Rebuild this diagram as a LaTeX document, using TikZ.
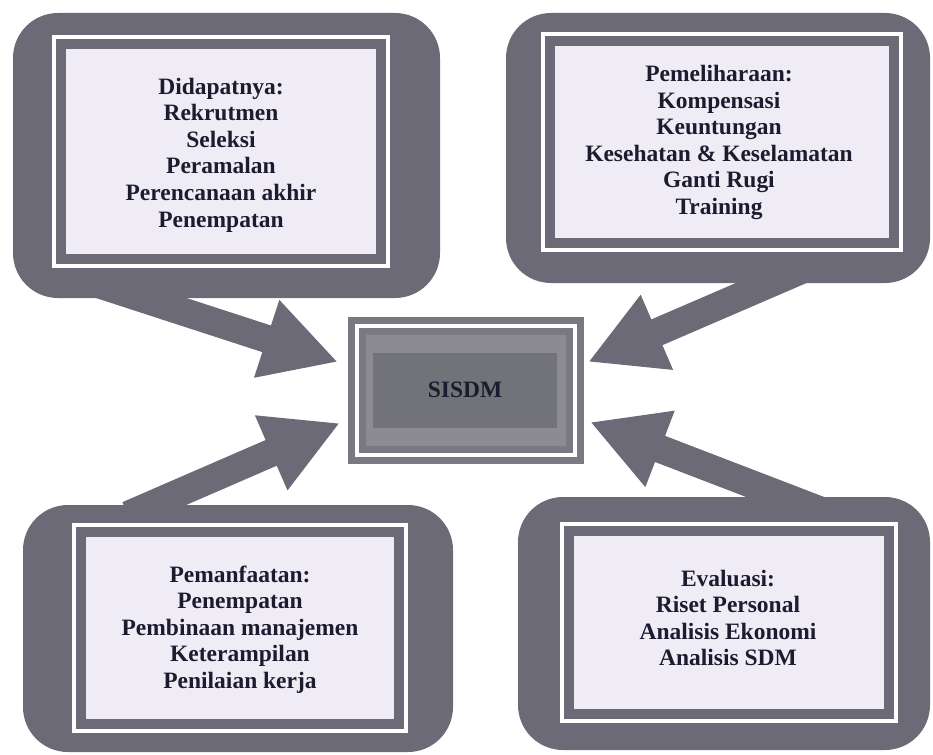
\documentclass[tikz,border=0pt]{standalone}
\usepackage{fontspec}
\setmainfont{Liberation Serif}
\usetikzlibrary{arrows.meta}
\definecolor{callgray}{RGB}{108,106,118}
\definecolor{paper}{RGB}{240,236,245}
\definecolor{boxgray}{RGB}{122,121,129}
\definecolor{boxlight}{RGB}{140,139,147}
\definecolor{boxdark}{RGB}{113,115,120}
\definecolor{ink}{RGB}{28,28,48}
\newlength{\pix}
\setlength{\pix}{0.025cm}
\tikzset{
  callout/.style={fill=callgray, rounded corners=45\pix, inner sep=0pt},
  frame/.style={draw=white, line width=4\pix, fill=callgray, inner sep=0pt,
    path picture={\fill[paper] ([shift={(12\pix,-12\pix)}]path picture bounding box.north west)
      rectangle ([shift={(-12\pix,12\pix)}]path picture bounding box.south east);}},
  centerbox/.style={draw=boxgray, double=white, double distance=4\pix, line width=7\pix, fill=boxlight, inner sep=0pt},
  bigarrow/.style={draw=callgray, line width=0.7cm, -{Triangle[length=1.875cm, width=1.9cm]}},
  txt/.style={text=ink, font=\bfseries\fontsize{16.7}{18.9}\selectfont, align=center}
}

\begin{document}
\begin{tikzpicture}[x=\pix,y=-\pix]
                    \useasboundingbox (0,0) rectangle (933,755);
                    % gray callouts
                    \node[callout, minimum width=427\pix, minimum height=285\pix] (dapatbg) at (226.5,155.5) {};
                    \node[callout, minimum width=424\pix, minimum height=270\pix] (pelibg) at (718,148) {};
                    \node[callout, minimum width=430\pix, minimum height=247\pix] (manfbg) at (238,628.5) {};
                    \node[callout, minimum width=412\pix, minimum height=253\pix] (evalbg) at (724,623.5) {};
                    
                    % arrows into the centre
                    \coordinate (dapat-out) at (95,283);
                    \coordinate (dapat-in) at (338,362);
                    \coordinate (peli-out) at (806,268);
                    \coordinate (peli-in) at (588,362);
                    \coordinate (manf-out) at (128,515);
                    \coordinate (manf-in) at (340,423);
                    \coordinate (eval-out) at (819,510);
                    \coordinate (eval-in) at (590,422);
                    \draw[bigarrow] (dapat-out) -- (dapat-in);
                    \draw[bigarrow] (peli-out) -- (peli-in);
                    \draw[bigarrow] (manf-out) -- (manf-in);
                    \draw[bigarrow] (eval-out) -- (eval-in);
                    
                    % framed text panels
                    \node[frame, minimum width=334\pix, minimum height=229\pix] (dapatfr) at (221,151.5) {};
                    \node[frame, minimum width=358\pix, minimum height=216\pix] (pelifr) at (722,142) {};
                    \node[frame, minimum width=332\pix, minimum height=206\pix] (manffr) at (240,628) {};
                    \node[frame, minimum width=334\pix, minimum height=197\pix] (evalfr) at (729,622.5) {};
                    
                    \node[txt] (dapat) at (221,155) {Didapatnya:\\Rekrutmen\\Seleksi\\Peramalan\\Perencanaan akhir\\Penempatan};
                    \node[txt] (peli) at (719,142.5) {Pemeliharaan:\\Kompensasi\\Keuntungan\\Kesehatan \& Keselamatan\\Ganti Rugi\\Training};
                    \node[txt] (manf) at (240,629.5) {Pemanfaatan:\\Penempatan\\Pembinaan manajemen\\Keterampilan\\Penilaian kerja};
                    \node[txt] (eval) at (728,618) {Evaluasi:\\Riset Personal\\Analisis Ekonomi\\Analisis SDM};
                    
                    % centre box
                    \node[centerbox, minimum width=218\pix, minimum height=129\pix] (sisdmfr) at (465.5,390) {};
                    \node[txt, fill=boxdark, minimum width=184\pix, minimum height=75\pix] (sisdm) at (465,390) {SISDM};
                \end{tikzpicture}
\end{document}
